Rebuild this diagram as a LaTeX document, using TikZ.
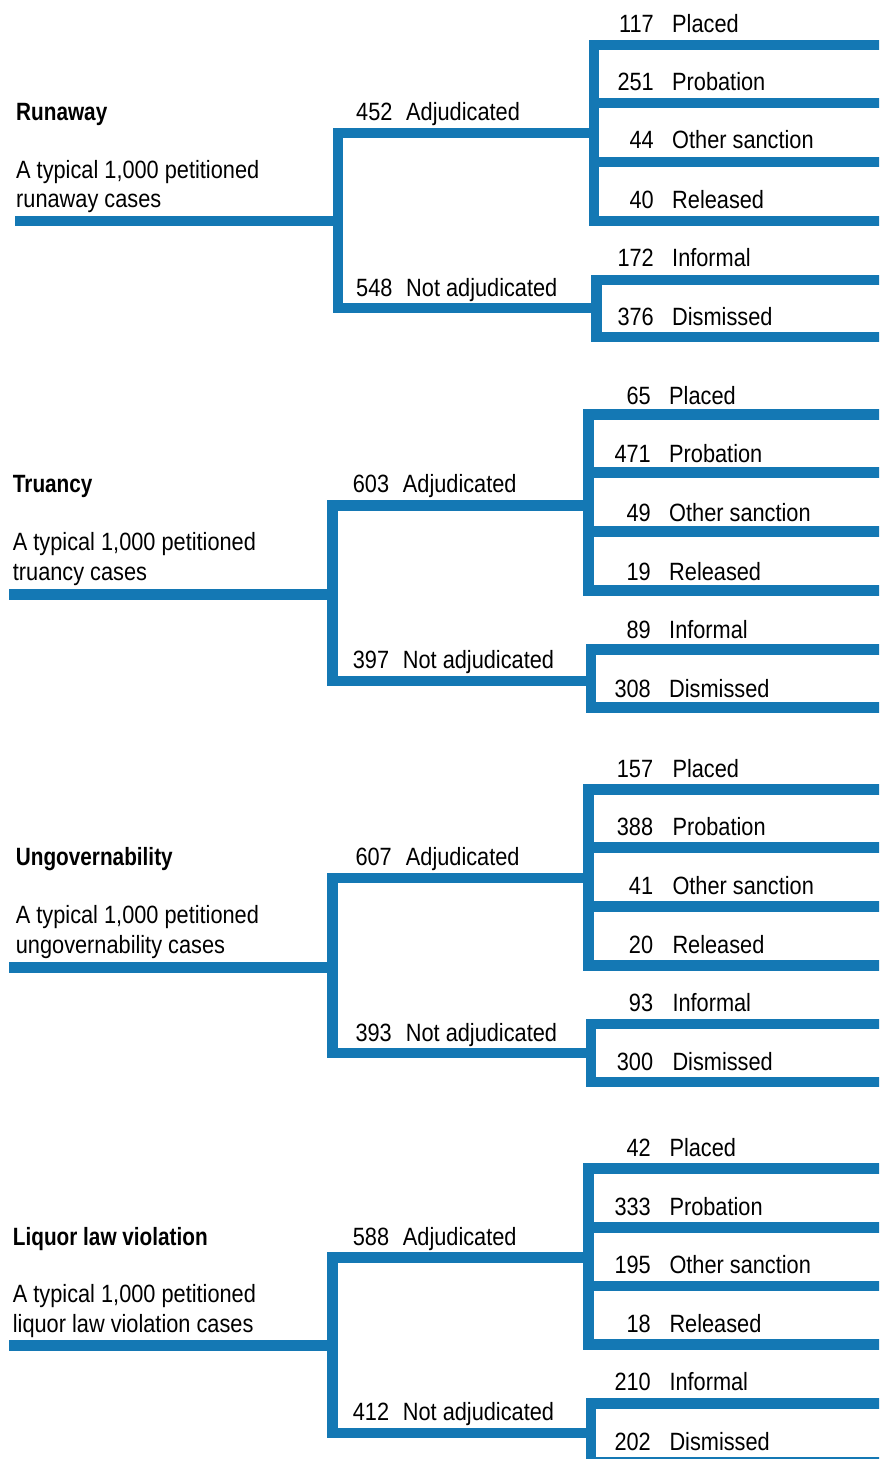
\documentclass[tikz,border=0pt]{standalone}
\usepackage{fontspec}
\setmainfont{Liberation Sans}[FakeStretch=0.87]
\newfontfamily\headfont{Liberation Sans}[FakeStretch=0.83]
\definecolor{tblue}{RGB}{20,120,180}
\tikzset{
  br/.style={draw=tblue, line width=10.5pt, line join=miter, line cap=butt},
  head/.style={anchor=base west, inner sep=0pt, font=\headfont\bfseries\fontsize{25}{30}\selectfont},
  txt/.style={anchor=base west, inner sep=0pt, font=\fontsize{25}{30}\selectfont},
  num/.style={anchor=base east, inner sep=0pt, font=\fontsize{25}{30}\selectfont},
}
\begin{document}
\begin{tikzpicture}[x=1pt,y=-1pt]
\useasboundingbox (0,0) rectangle (879,1459);
\clip (0,0) rectangle (879,1459);

% ---------------- Runaway ----------------
\coordinate (R-s) at (15,221);
\coordinate (R-j) at (338,221);
\coordinate (R-a) at (338,133);
\coordinate (R-n) at (338,308);
\coordinate (R-aj) at (594,133);
\coordinate (R-nj) at (596.5,308);
\node[head] (R-h) at (16,120) {Runaway};
\node[txt] (R-d1) at (16,178.3) {A typical 1,000 petitioned};
\node[txt] (R-d2) at (16,207.3) {runaway cases};
\node[txt] (R-an) at (356,120) {452};
\node[txt] (R-al) at (406,120) {Adjudicated};
\node[txt] (R-nn) at (356,296) {548};
\node[txt] (R-nl) at (406,296) {Not adjudicated};
\foreach \i/\x/\ly/\by/\num/\lab in {1/594/45/32.3/117/Placed, 2/594/103/90/251/Probation, 3/594/162/148.3/44/Other sanction, 4/594/221/208.3/40/Released, 5/596.5/280/266/172/Informal, 6/596.5/337/325/376/Dismissed}{
  \coordinate (R-l\i) at (\x,\ly);
  \coordinate (R-e\i) at (885,\ly);
  \node[num] (R-num\i) at (654,\by) {\num};
  \node[txt] (R-lab\i) at (672,\by) {\lab};
}
\draw[br] (R-s) -- (R-j);
\draw[br] (R-aj) -- (R-a) -- (R-n) -- (R-nj);
\draw[br] (R-e1) -- (R-l1) -- (R-l4) -- (R-e4);
\draw[br] (R-l2) -- (R-e2);
\draw[br] (R-l3) -- (R-e3);
\draw[br] (R-e5) -- (R-l5) -- (R-l6) -- (R-e6);

% ---------------- Truancy ----------------
\coordinate (T-s) at (9.3,594.5);
\coordinate (T-j) at (332.5,594.5);
\coordinate (T-a) at (332.5,505.5);
\coordinate (T-n) at (332.5,681);
\coordinate (T-aj) at (588.5,505.5);
\coordinate (T-nj) at (591,681);
\node[head] (T-h) at (12.7,492.7) {Truancy};
\node[txt] (T-d1) at (12.7,550) {A typical 1,000 petitioned};
\node[txt] (T-d2) at (12.7,580) {truancy cases};
\node[txt] (T-an) at (352.7,492.7) {603};
\node[txt] (T-al) at (402.7,492.7) {Adjudicated};
\node[txt] (T-nn) at (352.7,668.3) {397};
\node[txt] (T-nl) at (402.7,668.3) {Not adjudicated};
\foreach \i/\x/\ly/\by/\num/\lab in {1/588.5/414.5/404.3/65/Placed, 2/588.5/472.7/462.7/471/Probation, 3/588.5/531.3/521.7/49/Other sanction, 4/588.5/590.5/580/19/Released, 5/591/649.5/638.3/89/Informal, 6/591/707.5/697.3/308/Dismissed}{
  \coordinate (T-l\i) at (\x,\ly);
  \coordinate (T-e\i) at (885,\ly);
  \node[num] (T-num\i) at (651,\by) {\num};
  \node[txt] (T-lab\i) at (669,\by) {\lab};
}
\draw[br] (T-s) -- (T-j);
\draw[br] (T-aj) -- (T-a) -- (T-n) -- (T-nj);
\draw[br] (T-e1) -- (T-l1) -- (T-l4) -- (T-e4);
\draw[br] (T-l2) -- (T-e2);
\draw[br] (T-l3) -- (T-e3);
\draw[br] (T-e5) -- (T-l5) -- (T-l6) -- (T-e6);

% ---------------- Ungovernability ----------------
\coordinate (U-s) at (9.3,967.5);
\coordinate (U-j) at (332.5,967.5);
\coordinate (U-a) at (332.5,878);
\coordinate (U-n) at (332.5,1053);
\coordinate (U-aj) at (588.5,878);
\coordinate (U-nj) at (591,1053);
\node[head] (U-h) at (15.7,865) {Ungovernability};
\node[txt] (U-d1) at (15.7,923.3) {A typical 1,000 petitioned};
\node[txt] (U-d2) at (15.7,953.3) {ungovernability cases};
\node[txt] (U-an) at (355.3,865) {607};
\node[txt] (U-al) at (405.7,865) {Adjudicated};
\node[txt] (U-nn) at (355.3,1041.7) {393};
\node[txt] (U-nl) at (405.7,1041.7) {Not adjudicated};
\foreach \i/\x/\ly/\by/\num/\lab in {1/588.5/789.5/777.3/157/Placed, 2/588.5/847.7/835.7/388/Probation, 3/588.5/906.3/894.3/41/Other sanction, 4/588.5/965.7/953.3/20/Released, 5/591/1024/1011.7/93/Informal, 6/591/1082/1070/300/Dismissed}{
  \coordinate (U-l\i) at (\x,\ly);
  \coordinate (U-e\i) at (885,\ly);
  \node[num] (U-num\i) at (653.3,\by) {\num};
  \node[txt] (U-lab\i) at (672.3,\by) {\lab};
}
\draw[br] (U-s) -- (U-j);
\draw[br] (U-aj) -- (U-a) -- (U-n) -- (U-nj);
\draw[br] (U-e1) -- (U-l1) -- (U-l4) -- (U-e4);
\draw[br] (U-l2) -- (U-e2);
\draw[br] (U-l3) -- (U-e3);
\draw[br] (U-e5) -- (U-l5) -- (U-l6) -- (U-e6);

% ---------------- Liquor law violation ----------------
\coordinate (L-s) at (9.3,1345.3);
\coordinate (L-j) at (332.5,1345.3);
\coordinate (L-a) at (332.5,1257.5);
\coordinate (L-n) at (332.5,1432.8);
\coordinate (L-aj) at (588.5,1257.5);
\coordinate (L-nj) at (591,1432.8);
\node[head] (L-h) at (12.7,1245) {Liquor law violation};
\node[txt] (L-d1) at (12.7,1302.7) {A typical 1,000 petitioned};
\node[txt] (L-d2) at (12.7,1332.3) {liquor law violation cases};
\node[txt] (L-an) at (352.7,1245) {588};
\node[txt] (L-al) at (402.7,1245) {Adjudicated};
\node[txt] (L-nn) at (352.7,1420) {412};
\node[txt] (L-nl) at (402.7,1420) {Not adjudicated};
\foreach \i/\x/\ly/\by/\num/\lab in {1/588.5/1168.7/1156.7/42/Placed, 2/588.5/1227.3/1215/333/Probation, 3/588.5/1286/1273.3/195/Other sanction, 4/588.5/1344.5/1332.3/18/Released, 5/591/1403.3/1390.7/210/Informal, 6/591/1462/1450/202/Dismissed}{
  \coordinate (L-l\i) at (\x,\ly);
  \coordinate (L-e\i) at (885,\ly);
  \node[num] (L-num\i) at (651,\by) {\num};
  \node[txt] (L-lab\i) at (669.3,\by) {\lab};
}
\draw[br] (L-s) -- (L-j);
\draw[br] (L-aj) -- (L-a) -- (L-n) -- (L-nj);
\draw[br] (L-e1) -- (L-l1) -- (L-l4) -- (L-e4);
\draw[br] (L-l2) -- (L-e2);
\draw[br] (L-l3) -- (L-e3);
\draw[br] (L-e5) -- (L-l5) -- (L-l6) -- (L-e6);
\end{tikzpicture}
\end{document}
